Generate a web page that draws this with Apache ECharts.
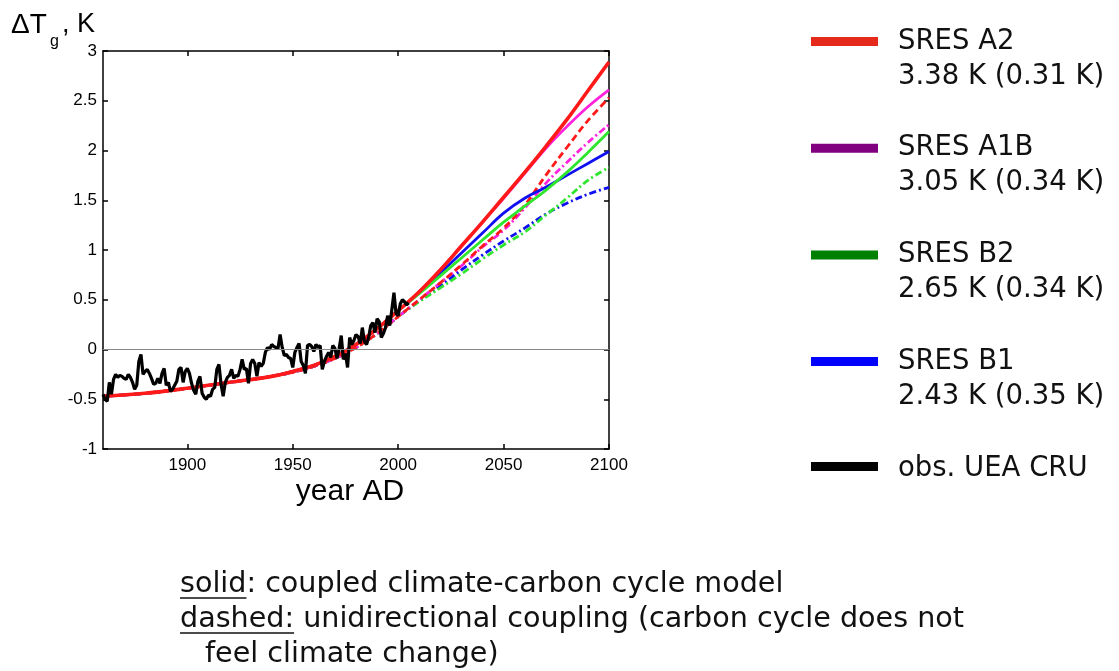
<!DOCTYPE html>
<html>
<head>
<meta charset="utf-8">
<script src="https://cdn.jsdelivr.net/npm/echarts@6/dist/echarts.min.js"></script>
<style>
html,body{margin:0;padding:0;background:#fff;}
#c{width:1119px;height:671px;}
</style>
</head>
<body>
<div id="c"></div>
<script>
// ---------- data ----------
const xTickValues = [1900, 1950, 2000, 2050, 2100];
const modelYears = [1860,1880,1900,1920,1940,1950,1960,1970,1980,1990,2000,2010,2020,2030,2040,2050,2060,2070,2080,2090,2100];
const histSolid  = [-0.47,-0.44,-0.39,-0.33,-0.27,-0.22,-0.16,-0.07,0.05,0.21,0.39];
const histDashed = [-0.47,-0.44,-0.39,-0.33,-0.27,-0.23,-0.17,-0.09,0.02,0.16,0.33];
const a2Solid   = [0.58,0.80,1.04,1.28,1.53,1.78,2.04,2.31,2.60,2.89];
const a1bSolid  = [0.58,0.80,1.04,1.28,1.52,1.77,2.02,2.24,2.44,2.61];
const b2Solid   = [0.56,0.74,0.92,1.10,1.28,1.44,1.60,1.78,1.98,2.19];
const b1Solid   = [0.57,0.77,0.97,1.17,1.37,1.52,1.63,1.75,1.87,1.99];
const a2Dashed  = [0.50,0.67,0.85,1.04,1.22,1.45,1.75,2.03,2.30,2.53];
const a1bDashed = [0.50,0.67,0.84,1.03,1.20,1.42,1.67,1.88,2.08,2.26];
const b2Dashed  = [0.48,0.62,0.76,0.91,1.05,1.18,1.35,1.52,1.70,1.83];
const b1Dashed  = [0.49,0.64,0.80,0.95,1.09,1.22,1.36,1.47,1.56,1.63];
const obsStart = 1860;
const obsValues = [
-0.45,-0.50,-0.52,-0.33,-0.45,-0.30,-0.25,-0.28,-0.26,-0.27,
-0.29,-0.30,-0.25,-0.28,-0.33,-0.40,-0.36,-0.12,-0.05,-0.25,
-0.22,-0.20,-0.24,-0.29,-0.35,-0.34,-0.29,-0.34,-0.24,-0.19,
-0.36,-0.33,-0.42,-0.40,-0.36,-0.32,-0.20,-0.18,-0.33,-0.22,
-0.19,-0.24,-0.34,-0.41,-0.45,-0.32,-0.27,-0.44,-0.48,-0.50,
-0.46,-0.47,-0.40,-0.38,-0.20,-0.15,-0.35,-0.47,-0.33,-0.28,
-0.26,-0.20,-0.29,-0.26,-0.27,-0.20,-0.10,-0.20,-0.19,-0.34,
-0.14,-0.10,-0.14,-0.27,-0.13,-0.17,-0.14,-0.03,0.02,0.00,
0.05,0.03,0.02,0.01,0.15,0.02,-0.06,-0.05,-0.08,-0.09,
-0.18,-0.03,0.02,0.06,-0.12,-0.16,-0.24,0.04,0.05,0.03,
-0.02,0.05,0.02,0.04,-0.20,-0.12,-0.07,-0.03,-0.08,0.04,
0.01,-0.09,0.01,0.14,-0.10,-0.04,-0.18,0.12,0.05,0.09,
0.15,0.13,0.06,0.22,0.08,0.05,0.12,0.24,0.27,0.17,
0.31,0.28,0.12,0.16,0.22,0.34,0.24,0.40,0.57,0.36,
0.34,0.46,0.50,0.48,0.45,0.47];
const legendLabels = ['SRES A2','SRES A1B','SRES B2','SRES B1'];
const legendValues = ['3.38 K (0.31 K)','3.05 K (0.34 K)','2.65 K (0.34 K)','2.43 K (0.35 K)'];
const obsLabel = 'obs. UEA CRU';
const noteLines = ['solid: coupled climate-carbon cycle model','dashed: unidirectional coupling (carbon cycle does not','feel climate change)'];

// ---------- build ----------
function pairs(hist, fut){
  const v = hist.concat(fut);
  return modelYears.map((y,i)=>[y, v[i]]);
}
const obsData = obsValues.map((v,i)=>[obsStart+i, v]);

const C = {red:'#ff1a1a', mag:'#ff22dd', green:'#2ee62e', blue:'#1010f0'};
const AX = 'Liberation Sans';
const TX = 'DejaVu Sans';

function line(name, data, color, type, width, z){
  return {name, type:'line', data, showSymbol:false, smooth:0.4, z:z||2,
    lineStyle:{color, width, type}, emphasis:{disabled:true}, silent:true, animation:false};
}
const dash = [7,4];
const dashDot = [7,3,2,3];

const series = [
  line('B1 dashed',  pairs(histDashed,b1Dashed),  C.blue,  dashDot, 2.8),
  line('B2 dashed',  pairs(histDashed,b2Dashed),  C.green, dashDot, 2.8),
  line('A1B dashed', pairs(histDashed,a1bDashed), C.mag,   dashDot, 2.8),
  line('A2 dashed',  pairs(histDashed,a2Dashed),  C.red,   dash,    2.8),
  line('B1',  pairs(histSolid,b1Solid),  C.blue,  'solid', 2.8),
  line('B2',  pairs(histSolid,b2Solid),  C.green, 'solid', 2.8),
  line('A1B', pairs(histSolid,a1bSolid), C.mag,   'solid', 2.8),
  line('A2',  pairs(histSolid,a2Solid),  C.red,   'solid', 3.6),
  {name:'obs', type:'line', data:obsData, showSymbol:false, z:3, silent:true, animation:false,
   lineStyle:{color:'#000', width:3.2},
   markLine:{silent:true, symbol:'none', label:{show:false},
     lineStyle:{color:'#888', width:1, type:'solid'}, data:[{yAxis:0}]}}
];

// legend + texts via graphic
const ctx = document.createElement('canvas').getContext('2d');
function tw(txt, size, fam){ ctx.font = size+'px "'+fam+'"'; return ctx.measureText(txt).width; }

const legendColors = ['#e5291b','#800080','#008000','#0000ff'];
const graphic = [];
const legTop = 41.5, legStep = 106.7, LS = 27.5;
legendLabels.forEach((lab,i)=>{
  const cy = legTop + i*legStep;
  graphic.push({type:'rect', shape:{x:811, y:cy-4.5, width:67, height:9}, style:{fill:legendColors[i]}});
  graphic.push({type:'text', x:898, y:cy, style:{text:lab, font:LS+'px "'+TX+'"', fill:'#111', verticalAlign:'middle'}});
  graphic.push({type:'text', x:898, y:cy+35, style:{text:legendValues[i], font:LS+'px "'+TX+'"', fill:'#111', verticalAlign:'middle'}});
});
graphic.push({type:'rect', shape:{x:811, y:466.5-4.5, width:67, height:9}, style:{fill:'#000'}});
graphic.push({type:'text', x:898, y:469, style:{text:obsLabel, font:LS+'px "'+TX+'"', fill:'#111', verticalAlign:'middle'}});

// axis titles
graphic.push({type:'text', x:11, y:25, style:{text:'ΔT', font:'28px "'+AX+'"', fill:'#000', verticalAlign:'middle'}});
graphic.push({type:'text', x:50, y:42, style:{text:'g', font:'16px "'+AX+'"', fill:'#000', verticalAlign:'middle'}});
graphic.push({type:'text', x:62, y:25, style:{text:', K', font:'27px "'+AX+'"', fill:'#000', verticalAlign:'middle'}});
graphic.push({type:'text', x:350, y:492, style:{text:'year AD', font:'30px "'+AX+'"', fill:'#000', align:'center', verticalAlign:'middle'}});

// notes
const NS = 28.6;
const noteY = [585, 620, 655];
const noteX = [180, 180, 205];
noteLines.forEach((t,i)=>{
  graphic.push({type:'text', x:noteX[i], y:noteY[i], style:{text:t, font:NS+'px "'+TX+'"', fill:'#111', verticalAlign:'middle'}});
});
const w1 = tw('solid', NS, TX), w2 = tw('dashed:', NS, TX);
graphic.push({type:'line', shape:{x1:180, y1:noteY[0]+13, x2:180+w1, y2:noteY[0]+13}, style:{stroke:'#111', lineWidth:1.5}});
graphic.push({type:'line', shape:{x1:180, y1:noteY[1]+13, x2:180+w2, y2:noteY[1]+13}, style:{stroke:'#111', lineWidth:1.5}});

const axisLine = {show:true, onZero:false, lineStyle:{color:'#000', width:1.5}};
const tick = {show:true, inside:true, length:5, lineStyle:{color:'#000', width:1.5}};

const option = {
  animation:false,
  backgroundColor:'#fff',
  grid:{left:103, right:510, top:51, bottom:222, containLabel:false},
  xAxis:[
    {type:'value', min:1860, max:2100, position:'bottom', axisLine,
     axisTick:Object.assign({customValues:xTickValues}, tick),
     axisLabel:{customValues:xTickValues, color:'#000', fontSize:17, fontFamily:AX, margin:8, formatter:v=>String(v)},
     splitLine:{show:false}},
    {type:'value', min:1860, max:2100, position:'top', axisLine,
     axisTick:Object.assign({customValues:xTickValues}, tick),
     axisLabel:{show:false}, splitLine:{show:false}}
  ],
  yAxis:[
    {type:'value', min:-1, max:3, interval:0.5, position:'left', axisLine, axisTick:tick,
     axisLabel:{color:'#000', fontSize:17, fontFamily:AX, margin:6},
     splitLine:{show:false}},
    {type:'value', min:-1, max:3, interval:0.5, position:'right', axisLine, axisTick:tick,
     axisLabel:{show:false}, splitLine:{show:false}}
  ],
  series,
  graphic
};
const chart = echarts.init(document.getElementById('c'), null, {renderer:'canvas'});
chart.setOption(option);
</script>
</body>
</html>
